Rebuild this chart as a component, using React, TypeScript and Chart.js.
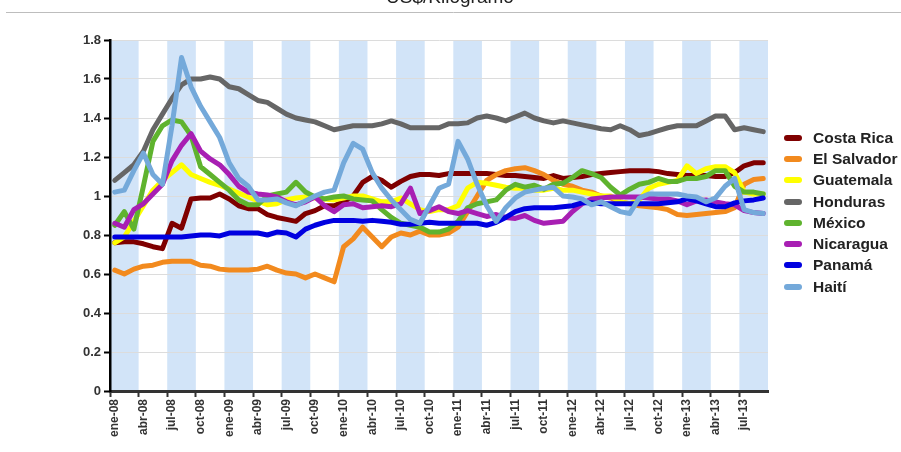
import { useEffect, useRef } from 'react';
import { Chart, registerables } from 'chart.js';

Chart.register(...registerables);

const categories = [
  'ene-08','feb-08','mar-08','abr-08','may-08','jun-08','jul-08','ago-08','sep-08','oct-08','nov-08','dic-08',
  'ene-09','feb-09','mar-09','abr-09','may-09','jun-09','jul-09','ago-09','sep-09','oct-09','nov-09','dic-09',
  'ene-10','feb-10','mar-10','abr-10','may-10','jun-10','jul-10','ago-10','sep-10','oct-10','nov-10','dic-10',
  'ene-11','feb-11','mar-11','abr-11','may-11','jun-11','jul-11','ago-11','sep-11','oct-11','nov-11','dic-11',
  'ene-12','feb-12','mar-12','abr-12','may-12','jun-12','jul-12','ago-12','sep-12','oct-12','nov-12','dic-12',
  'ene-13','feb-13','mar-13','abr-13','may-13','jun-13','jul-13','ago-13','sep-13',
];

const yTicks = [0, 0.2, 0.4, 0.6, 0.8, 1, 1.2, 1.4, 1.6, 1.8];

const costaRica = [
  0.76,0.765,0.765,0.755,0.74,0.73,0.86,0.835,0.985,0.99,0.99,1.01,0.985,0.95,0.935,0.935,0.905,0.89,0.88,0.87,0.91,0.925,0.95,
  0.95,0.97,1.0,1.07,1.10,1.08,1.045,1.075,1.10,1.11,1.11,1.105,1.115,1.115,1.115,1.115,1.115,1.11,1.105,1.105,1.10,1.095,1.09,
  1.105,1.09,1.095,1.10,1.11,1.115,1.12,1.125,1.13,1.13,1.13,1.125,1.115,1.11,1.105,1.105,1.105,1.10,1.10,1.12,1.155,1.17,1.17,
];
const elSalvador = [
  0.62,0.60,0.625,0.64,0.645,0.66,0.665,0.665,0.665,0.645,0.64,0.625,0.62,0.62,0.62,0.625,0.64,0.62,0.605,0.60,0.58,0.60,0.58,
  0.56,0.74,0.78,0.84,0.79,0.74,0.79,0.81,0.80,0.82,0.80,0.80,0.81,0.84,0.92,1.0,1.08,1.11,1.13,1.14,1.145,1.13,1.11,
  1.08,1.06,1.05,1.03,1.02,1.0,0.99,0.97,0.96,0.95,0.945,0.94,0.93,0.905,0.90,0.905,0.91,0.915,0.92,0.94,1.06,1.085,1.09,
];
const guatemala = [
  0.76,0.79,0.87,0.95,1.03,1.08,1.12,1.16,1.11,1.09,1.07,1.055,1.035,1.015,0.995,0.975,0.955,0.96,0.98,0.99,0.995,0.99,0.985,
  0.98,0.99,1.0,1.0,0.985,0.97,0.97,0.99,0.96,0.93,0.92,0.93,0.93,0.95,1.04,1.07,1.065,1.055,1.045,1.04,1.04,1.03,1.03,
  1.04,1.03,1.03,1.02,1.01,1.0,1.0,0.97,0.96,0.98,1.04,1.06,1.07,1.08,1.155,1.115,1.14,1.15,1.15,1.12,1.02,1.01,1.01,
];
const honduras = [
  1.08,1.12,1.16,1.23,1.34,1.42,1.50,1.57,1.60,1.60,1.61,1.60,1.56,1.55,1.52,1.49,1.48,1.45,1.42,1.40,1.39,1.38,1.36,
  1.34,1.35,1.36,1.36,1.36,1.37,1.385,1.37,1.35,1.35,1.35,1.35,1.37,1.37,1.375,1.40,1.41,1.40,1.385,1.405,1.425,1.40,1.385,
  1.375,1.385,1.375,1.365,1.355,1.345,1.34,1.36,1.34,1.31,1.32,1.335,1.35,1.36,1.36,1.36,1.385,1.41,1.41,1.34,1.35,1.34,1.33,
];
const mexico = [
  0.85,0.92,0.83,1.05,1.28,1.36,1.39,1.38,1.31,1.15,1.11,1.07,1.03,0.98,0.955,0.955,1.0,1.01,1.02,1.07,1.02,0.995,0.985,
  0.995,1.0,0.985,0.98,0.975,0.93,0.89,0.86,0.85,0.84,0.815,0.815,0.83,0.87,0.94,0.96,0.97,0.98,1.03,1.06,1.045,1.055,1.035,
  1.06,1.065,1.095,1.13,1.115,1.095,1.045,1.005,1.035,1.06,1.07,1.09,1.075,1.075,1.09,1.09,1.10,1.13,1.13,1.05,1.02,1.02,1.01,
];
const nicaragua = [
  0.86,0.84,0.93,0.96,1.01,1.06,1.18,1.26,1.32,1.23,1.19,1.16,1.11,1.05,1.02,1.01,1.005,0.995,0.97,0.955,0.97,0.995,0.95,
  0.92,0.955,0.96,0.94,0.945,0.95,0.945,0.96,1.04,0.91,0.925,0.945,0.92,0.91,0.925,0.91,0.895,0.905,0.89,0.885,0.90,0.875,0.86,
  0.865,0.87,0.92,0.96,0.985,0.99,0.995,0.995,0.995,0.995,0.99,0.985,0.985,0.975,0.955,0.975,0.98,0.97,0.96,0.955,0.925,0.915,0.91,
];
const panama = [
  0.79,0.79,0.79,0.79,0.79,0.79,0.79,0.79,0.795,0.80,0.80,0.795,0.81,0.81,0.81,0.81,0.80,0.815,0.81,0.79,0.83,0.85,0.865,
  0.875,0.875,0.875,0.87,0.875,0.87,0.865,0.855,0.855,0.86,0.865,0.86,0.86,0.86,0.86,0.86,0.85,0.865,0.89,0.92,0.935,0.94,0.94,
  0.94,0.945,0.95,0.965,0.965,0.96,0.96,0.96,0.96,0.96,0.96,0.96,0.965,0.97,0.985,0.975,0.96,0.945,0.945,0.965,0.975,0.98,0.99,
];
const haiti = [
  1.02,1.03,1.13,1.22,1.11,1.06,1.36,1.71,1.56,1.46,1.38,1.30,1.17,1.09,1.05,0.98,0.98,0.985,0.965,0.95,0.975,1.0,1.02,
  1.03,1.17,1.27,1.24,1.12,1.04,0.98,0.93,0.88,0.86,0.95,1.04,1.06,1.28,1.19,1.06,0.95,0.87,0.94,0.99,1.02,1.03,1.04,
  1.045,1.0,0.995,0.985,0.955,0.97,0.945,0.92,0.91,0.99,1.01,1.01,1.01,1.01,1.0,0.995,0.97,0.99,1.05,1.09,0.93,0.915,0.91,
];

const seriesNames = ['Costa Rica', 'El Salvador', 'Guatemala', 'Honduras', 'México', 'Nicaragua', 'Panamá', 'Haití'];
const seriesColors = ['#7f0000', '#f28a1e', '#ffff00', '#666666', '#5fb32e', '#a81fb3', '#0000e0', '#74a9da'];
const seriesValues = [costaRica, elSalvador, guatemala, honduras, mexico, nicaragua, panama, haiti];

const titleText = 'US$/Kilogramo';

const bandsPlugin = {
  id: 'bands',
  beforeDraw(chart: any) {
    const { ctx, chartArea } = chart;
    const x = chart.scales.x;
    const n = categories.length;
    const w = (chartArea.right - chartArea.left) / n;
    ctx.save();
    ctx.fillStyle = '#d2e4f8';
    for (let k = 0; k * 3 < n; k++) {
      if (k % 2 !== 0) continue;
      const x0 = x.getPixelForValue(3 * k) - w / 2;
      const x1 = Math.min(x0 + 3 * w, chartArea.right);
      ctx.fillRect(x0, chartArea.top, x1 - x0, chartArea.bottom - chartArea.top);
    }
    ctx.restore();
  },
  afterDraw(chart: any) {
    const { ctx } = chart;
    ctx.save();
    ctx.fillStyle = '#222';
    ctx.font = '19px Arial, "Liberation Sans", sans-serif';
    ctx.textAlign = 'center';
    ctx.textBaseline = 'alphabetic';
    ctx.fillText(titleText, 450, 3);
    ctx.strokeStyle = '#bdbdbd';
    ctx.lineWidth = 1;
    ctx.beginPath();
    ctx.moveTo(6, 12.5);
    ctx.lineTo(901, 12.5);
    ctx.stroke();
    ctx.restore();
  },
};

export default function App() {
  const ref = useRef<HTMLCanvasElement>(null);

  useEffect(() => {
    if (!ref.current) return;
    const chart = new Chart(ref.current, {
      type: 'line',
      data: {
        labels: categories,
        datasets: seriesNames.map((name, i) => ({
          label: name,
          data: seriesValues[i],
          borderColor: seriesColors[i],
          backgroundColor: seriesColors[i],
          borderWidth: 5,
          pointRadius: 0,
          tension: 0,
          borderJoinStyle: 'round' as const,
          borderCapStyle: 'round' as const,
          order: seriesNames.length - i,
        })),
      },
      options: {
        responsive: false,
        animation: false,
        layout: { padding: { top: 40, right: 133, bottom: 0, left: 0 } },
        plugins: {
          legend: { display: false },
          tooltip: { enabled: false },
          title: { display: false },
        },
        scales: {
          x: {
            type: 'category',
            offset: true,
            grid: {
              offset: true,
              drawOnChartArea: false,
              drawTicks: true,
              tickLength: 6,
              tickWidth: 2,
              tickColor: (ctx: any) => (ctx.index % 3 === 0 ? '#333' : 'rgba(0,0,0,0)'),
            },
            border: { color: '#333', width: 3 },
            ticks: {
              autoSkip: false,
              minRotation: 90,
              maxRotation: 90,
              padding: 2,
              color: '#333',
              font: { family: 'Arial, "Liberation Sans", sans-serif', size: 12, weight: 'bold' },
              callback: (_v: any, i: number) => (i % 3 === 0 ? categories[i] : ''),
            },
            afterFit: (scale: any) => { scale.height = 61; },
          },
          y: {
            min: 0,
            max: 1.8,
            afterBuildTicks: (scale: any) => { scale.ticks = yTicks.map((v) => ({ value: v })); },
            grid: { color: '#dcdcdc', lineWidth: 1, tickColor: '#000', tickLength: 6, tickWidth: 2 },
            border: { color: '#000', width: 2.5 },
            ticks: {
              color: '#333',
              padding: 3,
              font: { family: 'Arial, "Liberation Sans", sans-serif', size: 13, weight: 'bold' },
              callback: (v: any) => String(Number(Number(v).toFixed(1))),
            },
            afterFit: (scale: any) => { scale.width = 110; },
          },
        },
      },
      plugins: [bandsPlugin],
    } as any);
    return () => chart.destroy();
  }, []);

  return (
    <div style={{ position: 'fixed', left: 0, top: 0, width: 901, height: 452, overflow: 'hidden', background: '#fff' }}>
      <canvas ref={ref} width={901} height={452} style={{ position: 'absolute', left: 0, top: 0 }} />
      <div style={{ position: 'absolute', left: 784, top: 127, width: 160, fontFamily: 'Arial, "Liberation Sans", sans-serif' }}>
        {seriesNames.map((name, i) => (
          <div key={name} style={{ display: 'flex', alignItems: 'center', height: 21.3, whiteSpace: 'nowrap' }}>
            <span style={{ display: 'inline-block', width: 18, height: 6, borderRadius: 3, background: seriesColors[i], marginRight: 11, flexShrink: 0 }} />
            <span style={{ fontSize: 15.5, fontWeight: 'bold', color: '#222' }}>{name}</span>
          </div>
        ))}
      </div>
    </div>
  );
}
